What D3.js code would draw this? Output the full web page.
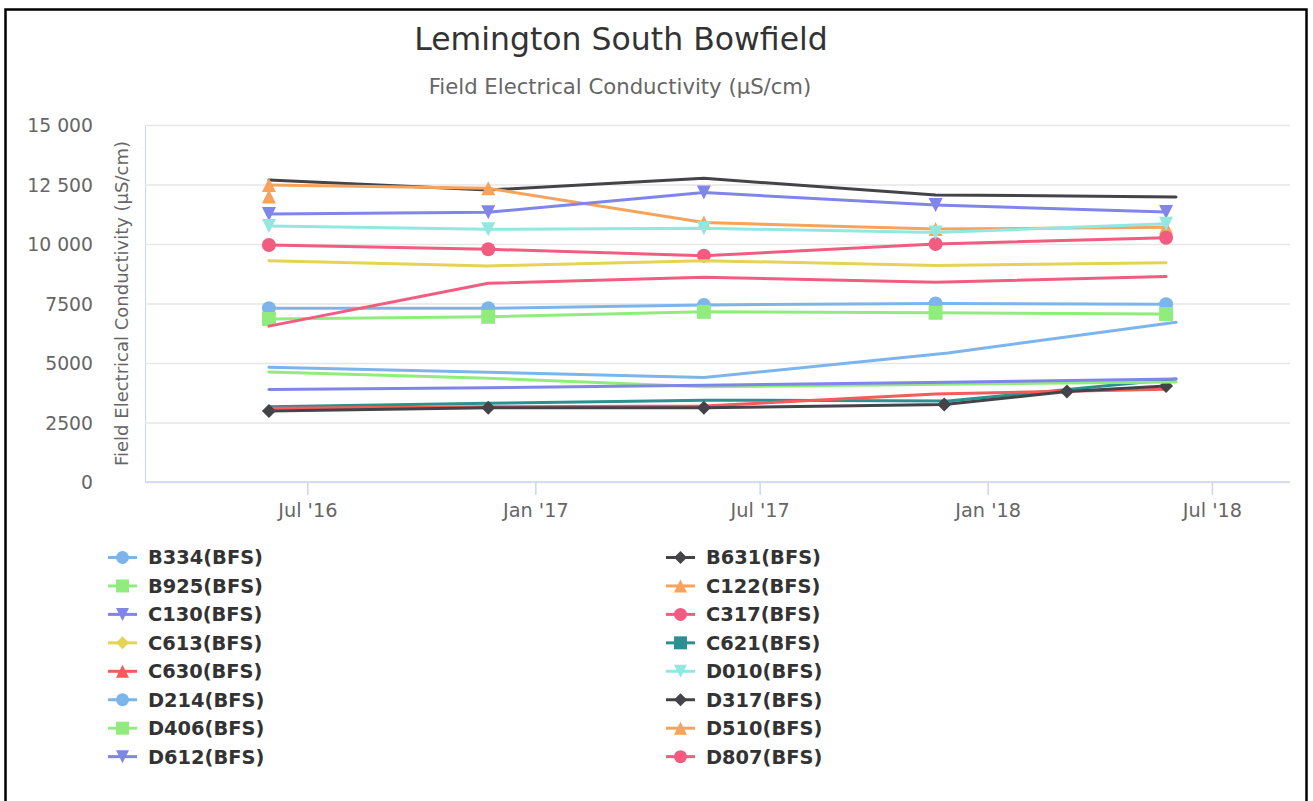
<!DOCTYPE html>
<html>
<head>
<meta charset="utf-8">
<script src="https://cdn.jsdelivr.net/npm/d3@7"></script>
<style>
  html, body { margin: 0; padding: 0; background: #ffffff; }
  svg { display: block; }
  text { font-family: "DejaVu Sans", Verdana, sans-serif; }
</style>
</head>
<body>
<svg id="chart" width="1313" height="801"></svg>
<script>
// ---- Sampling dates ----
const roundDates = ["2016-05-31", "2016-11-24", "2017-05-17", "2017-11-20", "2018-05-25"];
const lateRoundDates = ["2016-05-31", "2016-11-24", "2017-05-17", "2017-11-30", "2018-06-02"];
const b631Dates = ["2016-05-31", "2016-11-24", "2017-05-17", "2017-11-20", "2018-06-02"];
const d317Dates = ["2016-05-31", "2016-11-24", "2017-05-17", "2017-11-27", "2018-03-06", "2018-05-25"];
const d510Dates = ["2016-05-31"];

// ---- Field EC readings (µS/cm) per bore ----
const B334 = [7300, 7300, 7440, 7500, 7470];
const B631 = [12690, 12270, 12760, 12060, 11980];
const B925 = [6850, 6940, 7150, 7110, 7060];
const C122 = [12480, 12340, 10900, 10630, 10700];
const C130 = [11260, 11330, 12160, 11640, 11340];
const C317 = [9960, 9780, 9510, 10000, 10260];
const C613 = [9300, 9080, 9300, 9100, 9210];
const C621 = [3160, 3310, 3440, 3400, 4330];
const C630 = [3100, 3160, 3190, 3700, 3900];
const D010 = [10760, 10620, 10660, 10480, 10850];
const D214 = [4820, 4610, 4390, 5420, 6710];
const D317 = [2980, 3120, 3120, 3260, 3800, 4030];
const D406 = [4620, 4360, 4000, 4110, 4200];
const D510 = [12000];
const D612 = [3890, 3960, 4070, 4190, 4330];
const D807 = [6550, 8350, 8600, 8390, 8630];

const seriesNames = ["B334(BFS)", "B631(BFS)", "B925(BFS)", "C122(BFS)", "C130(BFS)", "C317(BFS)",
  "C613(BFS)", "C621(BFS)", "C630(BFS)", "D010(BFS)", "D214(BFS)", "D317(BFS)",
  "D406(BFS)", "D510(BFS)", "D612(BFS)", "D807(BFS)"];
const seriesValues = [B334, B631, B925, C122, C130, C317, C613, C621, C630, D010, D214, D317, D406, D510, D612, D807];
const seriesDates = [roundDates, b631Dates, roundDates, roundDates, roundDates, roundDates,
  roundDates, lateRoundDates, roundDates, roundDates, lateRoundDates, d317Dates,
  lateRoundDates, d510Dates, lateRoundDates, roundDates];
// series whose point markers are drawn on the plot
const markedSeries = ["B334(BFS)", "B925(BFS)", "C122(BFS)", "C130(BFS)", "C317(BFS)", "D010(BFS)", "D317(BFS)", "D510(BFS)"];

const yTicks = [0, 2500, 5000, 7500, 10000, 12500, 15000];
const xTicks = ["2016-07-01", "2017-01-01", "2017-07-01", "2018-01-01", "2018-07-01"];

// ---- Styling ----
const palette = ["#7cb5ec", "#434348", "#90ed7d", "#f7a35c", "#8085e9", "#f15c80", "#e4d354", "#2b908f", "#f45b5b", "#91e8e1"];
const symbols = ["circle", "diamond", "square", "triangle", "triangle-down"];

const parse = d3.timeParse("%Y-%m-%d");
const svg = d3.select("#chart");

const plot = { left: 145, right: 1290, top: 125, bottom: 482 };
const x = d3.scaleTime()
  .domain([parse("2016-02-21"), parse("2018-09-02")])
  .range([plot.left, plot.right]);
const y = d3.scaleLinear().domain([0, 15000]).range([plot.bottom, plot.top]);

function symbolPath(kind, r) {
  switch (kind) {
    case "circle": return `M${-r},0A${r},${r} 0 1,0 ${r},0A${r},${r} 0 1,0 ${-r},0Z`;
    case "square": return `M${-r},${-r}H${r}V${r}H${-r}Z`;
    case "diamond": return `M0,${-r}L${r},0L0,${r}L${-r},0Z`;
    case "triangle": return `M0,${-r}L${r},${r}L${-r},${r}Z`;
    case "triangle-down": return `M${-r},${-r}L${r},${-r}L0,${r}Z`;
  }
}

// outer frame
svg.append("rect")
  .attr("x", 5.5).attr("y", 9.5).attr("width", 1301).attr("height", 820)
  .attr("fill", "none").attr("stroke", "#000").attr("stroke-width", 2.5);

// titles
svg.append("text").attr("x", 621).attr("y", 50).attr("text-anchor", "middle")
  .attr("fill", "#333333").attr("font-size", 31.5).text("Lemington South Bowfield");
svg.append("text").attr("x", 620).attr("y", 94).attr("text-anchor", "middle")
  .attr("fill", "#666666").attr("font-size", 21.2).text("Field Electrical Conductivity (µS/cm)");

// gridlines and y labels
const fmtY = v => v >= 10000 ? d3.format(",")(v).replace(/,/g, " ") : String(v);
const yAxis = d3.axisLeft(y).tickValues(yTicks).tickSize(-(plot.right - plot.left)).tickPadding(52).tickFormat(fmtY);
const gy = svg.append("g").attr("transform", `translate(${plot.left},0)`).call(yAxis);
gy.select(".domain").attr("stroke", "#ccd6eb");
gy.selectAll(".tick line").attr("stroke", "#e6e6e6").attr("stroke-width", 1.5);
gy.selectAll(".tick text").attr("fill", "#666666").attr("font-size", 18.8)
  .attr("font-family", "DejaVu Sans").attr("dy", "0.35em");

svg.append("text")
  .attr("transform", `translate(128,${(plot.top + plot.bottom) / 2}) rotate(-90)`)
  .attr("text-anchor", "middle").attr("fill", "#666666").attr("font-size", 18)
  .text("Field Electrical Conductivity (µS/cm)");

// x axis
const xAxis = d3.axisBottom(x).tickValues(xTicks.map(parse)).tickSize(13).tickPadding(8)
  .tickFormat(d3.timeFormat("%b '%y"));
const gx = svg.append("g").attr("transform", `translate(0,${plot.bottom})`).call(xAxis);
gx.select(".domain").attr("stroke", "#ccd6eb").attr("stroke-width", 1.5).attr("d", `M${plot.left},0H${plot.right}`);
gx.selectAll(".tick line").attr("stroke", "#ccd6eb").attr("stroke-width", 1.5);
gx.selectAll(".tick text").attr("fill", "#666666").attr("font-size", 19.3).attr("font-family", "DejaVu Sans");

// series lines + markers
const line = d3.line().x(d => x(d.date)).y(d => y(d.value));
seriesNames.forEach((name, i) => {
  const color = palette[i % palette.length];
  const sym = symbols[i % symbols.length];
  const pts = seriesValues[i].map((v, j) => ({ date: parse(seriesDates[i][j]), value: v }));
  const g = svg.append("g").attr("class", "series");
  if (pts.length > 1) {
    g.append("path").attr("d", line(pts)).attr("fill", "none").attr("stroke", color)
      .attr("stroke-width", 3).attr("stroke-linejoin", "round").attr("stroke-linecap", "round");
  }
  if (markedSeries.includes(name)) {
    g.selectAll("path.pt").data(pts).join("path").attr("class", "pt")
      .attr("transform", d => `translate(${x(d.date)},${y(d.value)})`)
      .attr("d", symbolPath(sym, 7)).attr("fill", color);
  }
});

// legend (two columns, row-major)
const legend = svg.append("g");
seriesNames.forEach((name, i) => {
  const col = i % 2, row = Math.floor(i / 2);
  const lx = col === 0 ? 108 : 666;
  const ly = 557.5 + row * 28.45;
  const color = palette[i % palette.length];
  const g = legend.append("g").attr("transform", `translate(${lx},${ly})`);
  g.append("path").attr("d", "M0,0H29").attr("stroke", color).attr("stroke-width", 3);
  g.append("path").attr("transform", "translate(14.5,0)").attr("d", symbolPath(symbols[i % symbols.length], 6.5)).attr("fill", color);
  g.append("text").attr("x", 40).attr("dy", "0.36em").attr("fill", "#333333")
    .attr("font-size", 19.4).attr("font-weight", "bold").text(name);
});
</script>
</body>
</html>
